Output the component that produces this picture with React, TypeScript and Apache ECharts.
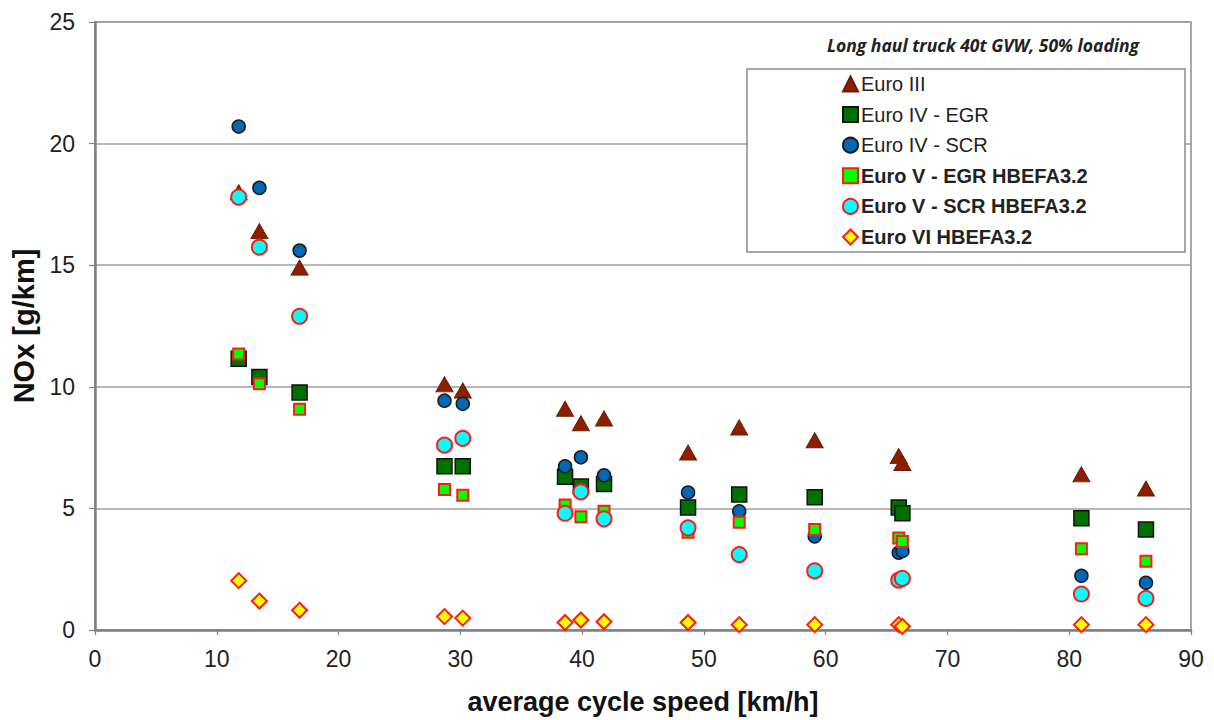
import React, { useEffect, useRef } from "react";
import * as echarts from "echarts";

const speeds = [11.8, 13.5, 16.8, 28.7, 30.2, 38.6, 39.9, 41.8, 48.7, 52.9, 59.1, 66.0, 66.3, 81.0, 86.3];
const euro3 = [18.0, 16.4, 14.9, 10.1, 9.85, 9.1, 8.5, 8.7, 7.3, 8.33, 7.8, 7.15, 6.87, 6.4, 5.82];
const euro4egr = [11.15, 10.4, 9.77, 6.73, 6.73, 6.3, 5.9, 6.0, 5.04, 5.57, 5.46, 5.04, 4.8, 4.59, 4.13];
const euro4scr = [20.7, 18.18, 15.6, 9.43, 9.3, 6.73, 7.1, 6.36, 5.65, 4.88, 3.85, 3.18, 3.25, 2.23, 1.94];
const euro5egr = [11.35, 10.13, 9.08, 5.78, 5.54, 5.14, 4.66, 4.88, 4.02, 4.43, 4.13, 3.78, 3.64, 3.34, 2.83];
const euro5scr = [17.8, 15.74, 12.9, 7.6, 7.88, 4.8, 5.68, 4.57, 4.2, 3.1, 2.43, 2.05, 2.12, 1.48, 1.3];
const euro6 = [2.03, 1.19, 0.81, 0.55, 0.49, 0.31, 0.41, 0.34, 0.31, 0.22, 0.22, 0.22, 0.15, 0.22, 0.22];

const seriesNames = [
  "Euro III",
  "Euro IV - EGR",
  "Euro IV - SCR",
  "Euro V - EGR HBEFA3.2",
  "Euro V - SCR HBEFA3.2",
  "Euro VI HBEFA3.2",
];
const boldNames = [false, false, false, true, true, true];
const chartTitle = "Long haul truck 40t GVW, 50% loading";
const xName = "average cycle speed [km/h]";
const yName = "NOx [g/km]";

const pair = (ys: number[]) => speeds.map((x, i) => [x, ys[i]]);

export default function App() {
  const ref = useRef<HTMLDivElement>(null);
  useEffect(() => {
    if (!ref.current) return;
    const chart = echarts.init(ref.current, undefined, { renderer: "svg" });
    const font = "'Liberation Sans', Arial, sans-serif";
    const styles = [
      { symbol: "triangle", symbolSize: [17, 15], itemStyle: { color: "#8b2000", borderColor: "#6e1a00", borderWidth: 1, opacity: 1 } },
      { symbol: "rect", symbolSize: 15, itemStyle: { color: "#007000", borderColor: "#111", borderWidth: 1.5, opacity: 1 } },
      { symbol: "circle", symbolSize: 13, itemStyle: { color: "#0068b4", borderColor: "#1a1a1a", borderWidth: 1.5, opacity: 1 } },
      { symbol: "rect", symbolSize: 11, itemStyle: { color: "#00ff00", borderColor: "#ff1a1a", borderWidth: 2, opacity: 1 } },
      { symbol: "circle", symbolSize: 15, itemStyle: { color: "#00ffff", borderColor: "#ff1a1a", borderWidth: 2, opacity: 1 } },
      { symbol: "diamond", symbolSize: 15, itemStyle: { color: "#ffff00", borderColor: "#ff1a1a", borderWidth: 2, opacity: 1 } },
    ];
    const datas = [euro3, euro4egr, euro4scr, euro5egr, euro5scr, euro6];
    chart.setOption({
      animation: false,
      backgroundColor: "#fff",
      textStyle: { fontFamily: font },
      grid: {
        left: 95,
        top: 22,
        width: 1096,
        height: 612,
        show: true,
        borderColor: "#8c8c8c",
        borderWidth: 1.5,
      },
      graphic: [
        {
          type: "rect",
          shape: { x: 747, y: 69, width: 438, height: 183 },
          style: { fill: "#fff", stroke: "#8c8c8c", lineWidth: 1.5 },
          z: 5,
        },
        {
          type: "text",
          x: 983,
          y: 45,
          style: {
            text: chartTitle,
            fontFamily: "'Open Sans', sans-serif",
            fontStyle: "italic",
            fontWeight: "bold",
            fontSize: 17.5,
            fill: "#222",
            align: "center",
            verticalAlign: "middle",
          },
          z: 5,
        },
      ],
      legend: {
        orient: "vertical",
        left: 842,
        top: 74,
        padding: 0,
        itemWidth: 15,
        itemHeight: 15,
        itemGap: 10.6,
        z: 10,
        textStyle: { fontFamily: font, fontSize: 20, color: "#222", padding: [0, 0, 0, -2] },
        data: seriesNames.map((n, i) => ({
          name: n,
          textStyle: { fontWeight: boldNames[i] ? "bold" : "normal" },
        })),
      },
      xAxis: {
        type: "value",
        min: 0,
        max: 90,
        interval: 10,
        name: xName,
        nameLocation: "middle",
        nameGap: 58,
        nameTextStyle: { fontSize: 27, fontWeight: "bold", color: "#111", fontFamily: font },
        axisLine: { show: true, onZero: false, lineStyle: { color: "#808080", width: 2.5 } },
        axisTick: { show: true, length: 5, lineStyle: { color: "#808080", width: 1.2 } },
        axisLabel: { fontSize: 23, color: "#222", margin: 17, fontFamily: font },
        splitLine: { show: false },
      },
      yAxis: {
        type: "value",
        min: 0,
        max: 25,
        interval: 5,
        name: yName,
        nameLocation: "middle",
        nameGap: 55,
        nameTextStyle: { fontSize: 29, fontWeight: "bold", color: "#111", fontFamily: font },
        axisLine: { show: true, lineStyle: { color: "#808080", width: 2.5 } },
        axisTick: { show: true, length: 6, lineStyle: { color: "#808080", width: 1.2 } },
        axisLabel: { fontSize: 23, color: "#222", margin: 20, fontFamily: font },
        splitLine: { show: true, lineStyle: { color: "#a0a0a0", width: 1.5 } },
      },
      series: datas.map((d, i) => ({
        type: "scatter",
        name: seriesNames[i],
        data: pair(d),
        symbol: styles[i].symbol,
        symbolSize: styles[i].symbolSize,
        itemStyle: styles[i].itemStyle,
        z: 3,
      })),
    });
    return () => chart.dispose();
  }, []);
  return (
    <div
      ref={ref}
      style={{ position: "fixed", left: 0, top: 0, width: 1214, height: 720 }}
    />
  );
}
